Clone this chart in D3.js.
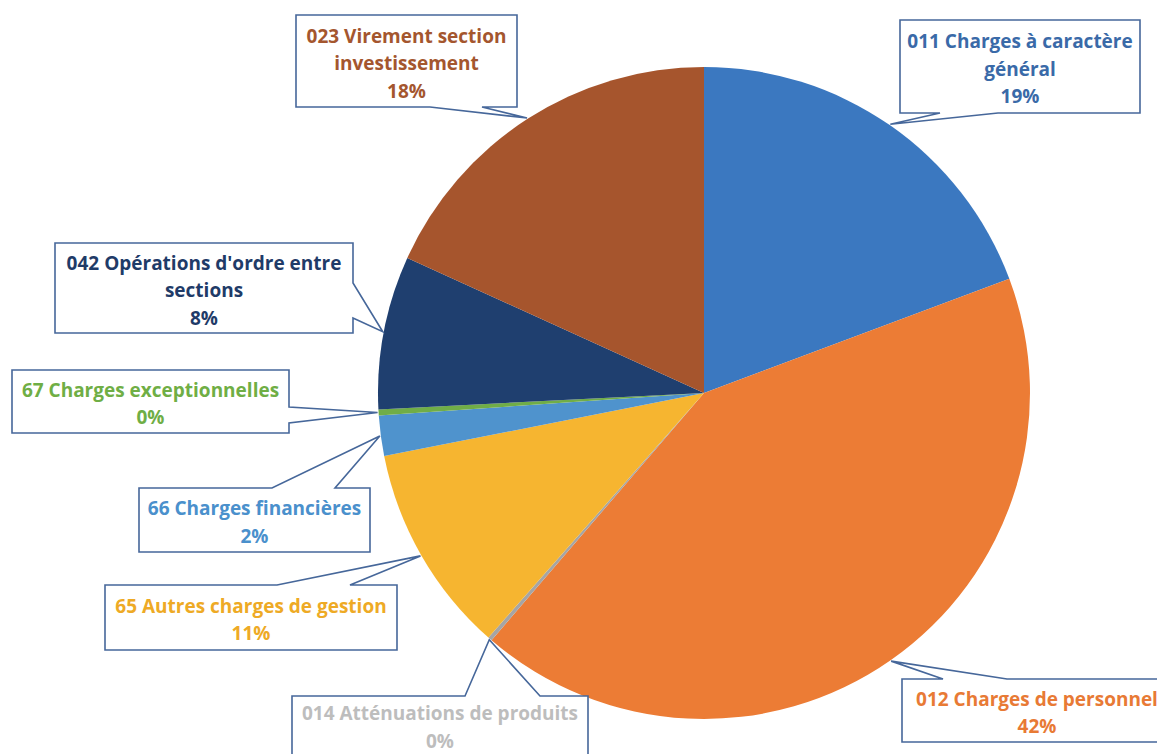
<!doctype html>
<html lang="fr">
<head>
<meta charset="utf-8">
<title>Dépenses de fonctionnement</title>
<script src="https://d3js.org/d3.v7.min.js"></script>
<style>
  body { margin: 0; background: #fff; }
  text { font-family: "Open Sans", Lato, sans-serif; font-weight: 700; }
</style>
</head>
<body>
<svg width="1157" height="754"></svg>
<script>
// chapitres budgétaires, dans l'ordre des aiguilles d'une montre depuis midi
var categories = ["011", "012", "014", "65", "66", "67", "042", "023"];
var labelLines = [
  ["011 Charges à caractère", "général"],
  ["012 Charges de personnel"],
  ["014 Atténuations de produits"],
  ["65 Autres charges de gestion"],
  ["66 Charges financières"],
  ["67 Charges exceptionnelles"],
  ["042 Opérations d'ordre entre", "sections"],
  ["023 Virement section", "investissement"]
];
var values = [19.3, 42.0, 0.2, 10.4, 2.0, 0.3, 7.6, 18.2];
var percentLabels = ["19%", "42%", "0%", "11%", "2%", "0%", "8%", "18%"];

var sliceColors = ["#3b78c0", "#ec7c35", "#a5a5a5", "#f6b530", "#4f93cd", "#70ad47", "#1f3f6f", "#a6552d"];
var textColors  = ["#3a6aa8", "#e87a35", "#bdbdbd", "#eeaa25", "#4a90cc", "#6fae45", "#1f3b68", "#a4562e"];

// position des bulles (x, y, largeur, hauteur, côté de la pointe, base de la pointe)
// la bulle 014 dépasse en bas de l'image : son texte est placé avec "ty"
var callouts = [
  {x: 900, y: 20,  w: 240, h: 93, side: "bottom", b: [940, 998]},
  {x: 902, y: 679, w: 270, h: 63, side: "top",    b: [943, 1007]},
  {x: 292, y: 696, w: 296, h: 80, side: "top",    b: [465, 540], ty: 713},
  {x: 105, y: 585, w: 292, h: 65, side: "top",    b: [277, 350]},
  {x: 139, y: 488, w: 231, h: 64, side: "top",    b: [272, 335]},
  {x: 12,  y: 370, w: 277, h: 63, side: "right",  b: [407, 423]},
  {x: 55,  y: 243, w: 298, h: 90, side: "right",  b: [283, 318]},
  {x: 296, y: 15,  w: 221, h: 92, side: "bottom", b: [430, 482]}
];

var cx = 704, cy = 393, radius = 326;

var svg = d3.select("svg");
var g = svg.append("g").attr("transform", "translate(" + cx + "," + cy + ")");

var pie = d3.pie().sort(null).value(function(d) { return d; });
var arcs = pie(values);
var arc = d3.arc().innerRadius(0).outerRadius(radius);

g.selectAll("path.slice")
  .data(arcs)
  .enter().append("path")
  .attr("class", "slice")
  .attr("d", arc)
  .attr("fill", function(d, i) { return sliceColors[i]; });

// bulles de légende
function calloutPath(c, tip) {
  var x0 = c.x, y0 = c.y, x1 = c.x + c.w, y1 = c.y + c.h;
  var p = [];
  if (c.side == "top") {
    p = [[x0, y0], [c.b[0], y0], tip, [c.b[1], y0], [x1, y0], [x1, y1], [x0, y1]];
  } else if (c.side == "bottom") {
    p = [[x0, y0], [x1, y0], [x1, y1], [c.b[1], y1], tip, [c.b[0], y1], [x0, y1]];
  } else if (c.side == "right") {
    p = [[x0, y0], [x1, y0], [x1, c.b[0]], tip, [x1, c.b[1]], [x1, y1], [x0, y1]];
  }
  return "M" + p.map(function(q) { return q[0] + "," + q[1]; }).join("L") + "Z";
}

var labels = svg.selectAll("g.callout")
  .data(arcs)
  .enter().append("g")
  .attr("class", "callout");

labels.append("path")
  .attr("d", function(d, i) {
    var a = (d.startAngle + d.endAngle) / 2;
    var tip = [cx + Math.sin(a) * (radius + 1), cy - Math.cos(a) * (radius + 1)];
    return calloutPath(callouts[i], tip);
  })
  .attr("fill", "#fff")
  .attr("stroke", "#46679a")
  .attr("stroke-width", 1.6)
  .attr("stroke-linejoin", "miter");

labels.each(function(d, i) {
  var c = callouts[i];
  var lines = labelLines[i].concat([percentLabels[i]]);
  var lh = 27.5;
  var top = c.ty != null ? c.ty : c.y + c.h / 2 + 2 - (lines.length - 1) * lh / 2;
  var t = d3.select(this).append("text")
    .attr("text-anchor", "middle")
    .attr("fill", textColors[i])
    .style("font-size", "19px");
  lines.forEach(function(l, k) {
    t.append("tspan")
      .attr("x", c.x + c.w / 2)
      .attr("y", top + k * lh)
      .attr("dominant-baseline", "central")
      .text(l);
  });
});
</script>
</body>
</html>
